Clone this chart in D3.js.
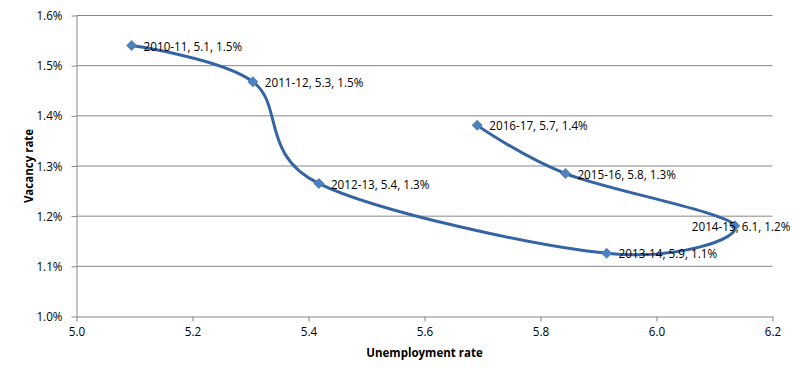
<!DOCTYPE html>
<html><head><meta charset="utf-8">
<script src="https://cdn.jsdelivr.net/npm/d3@7"></script>
<style>body{margin:0;background:#fff}svg{display:block}text{font-family:"Open Sans",sans-serif}</style>
</head><body>
<svg id="c" width="795" height="378"></svg>
<script>
const years = ["2010-11","2011-12","2012-13","2013-14","2014-15","2015-16","2016-17"];
const unemployment = [5.095,5.304,5.418,5.914,6.135,5.843,5.691];
const vacancy = [1.540,1.468,1.265,1.126,1.181,1.285,1.381];
const labelUnemp = ["5.1","5.3","5.4","5.9","6.1","5.8","5.7"];
const labelVac = ["1.5%","1.5%","1.3%","1.1%","1.2%","1.3%","1.4%"];
const xTicks = [5.0,5.2,5.4,5.6,5.8,6.0,6.2];
const yTicks = [1.0,1.1,1.2,1.3,1.4,1.5,1.6];

const svg = d3.select("#c");
const x = d3.scaleLinear().domain([5.0,6.2]).range([76.5,772.5]);
const y = d3.scaleLinear().domain([1.0,1.6]).range([316.5,15.5]);
const fs = "11.7px";

svg.append("g").selectAll("line").data(yTicks.slice(1)).join("line")
  .attr("x1",x(5.0)).attr("x2",x(6.2)).attr("y1",d=>y(d)).attr("y2",d=>y(d))
  .attr("stroke","#868686").attr("stroke-width",1);

const xAxis = svg.append("g").attr("transform",`translate(0,${y(1.0)})`)
  .call(d3.axisBottom(x).tickValues(xTicks).tickFormat(d3.format(".1f")).tickSizeInner(5).tickSizeOuter(0).tickPadding(6));
const yAxis = svg.append("g").attr("transform",`translate(${x(5.0)},0)`)
  .call(d3.axisLeft(y).tickValues(yTicks).tickFormat(d=>d.toFixed(1)+"%").tickSizeInner(5).tickSizeOuter(0).tickPadding(9));
[xAxis,yAxis].forEach(a=>{
  a.selectAll("path,line").attr("stroke","#868686");
  a.selectAll("text").attr("fill","#000").style("font-family","'Open Sans',sans-serif").style("font-size",fs);
});
yAxis.selectAll("text").attr("dy","0.35em");

const pts = years.map((yr,i)=>({yr,u:unemployment[i],v:vacancy[i],lab:`${yr}, ${labelUnemp[i]}, ${labelVac[i]}`}));
const line = d3.line().x(d=>x(d.u)).y(d=>y(d.v)).curve(d3.curveCardinal.tension(0));
svg.append("path").datum(pts).attr("d",line).attr("fill","none")
  .attr("stroke","#3464A4").attr("stroke-width",3);

svg.append("g").selectAll("path").data(pts).join("path")
  .attr("d","M0,-5.5L5.5,0L0,5.5L-5.5,0Z")
  .attr("transform",d=>`translate(${x(d.u)},${y(d.v)})`)
  .attr("fill","#4F81BD");

svg.append("g").selectAll("text").data(pts).join("text")
  .attr("x",(d,i)=> i===4 ? x(d.u)-43 : x(d.u)+12)
  .attr("y",d=> y(d.v)+5)
  .style("font-size",fs).attr("fill","#000").text(d=>d.lab);

svg.append("text").attr("x",(x(5.0)+x(6.2))/2).attr("y",357).attr("text-anchor","middle")
  .style("font-size","11.5px").style("font-weight","bold").text("Unemployment rate");
svg.append("text").attr("transform",`translate(33,${(y(1.0)+y(1.6))/2}) rotate(-90)`).attr("text-anchor","middle")
  .style("font-size","11.5px").style("font-weight","bold").text("Vacancy rate");
</script>
</body></html>
